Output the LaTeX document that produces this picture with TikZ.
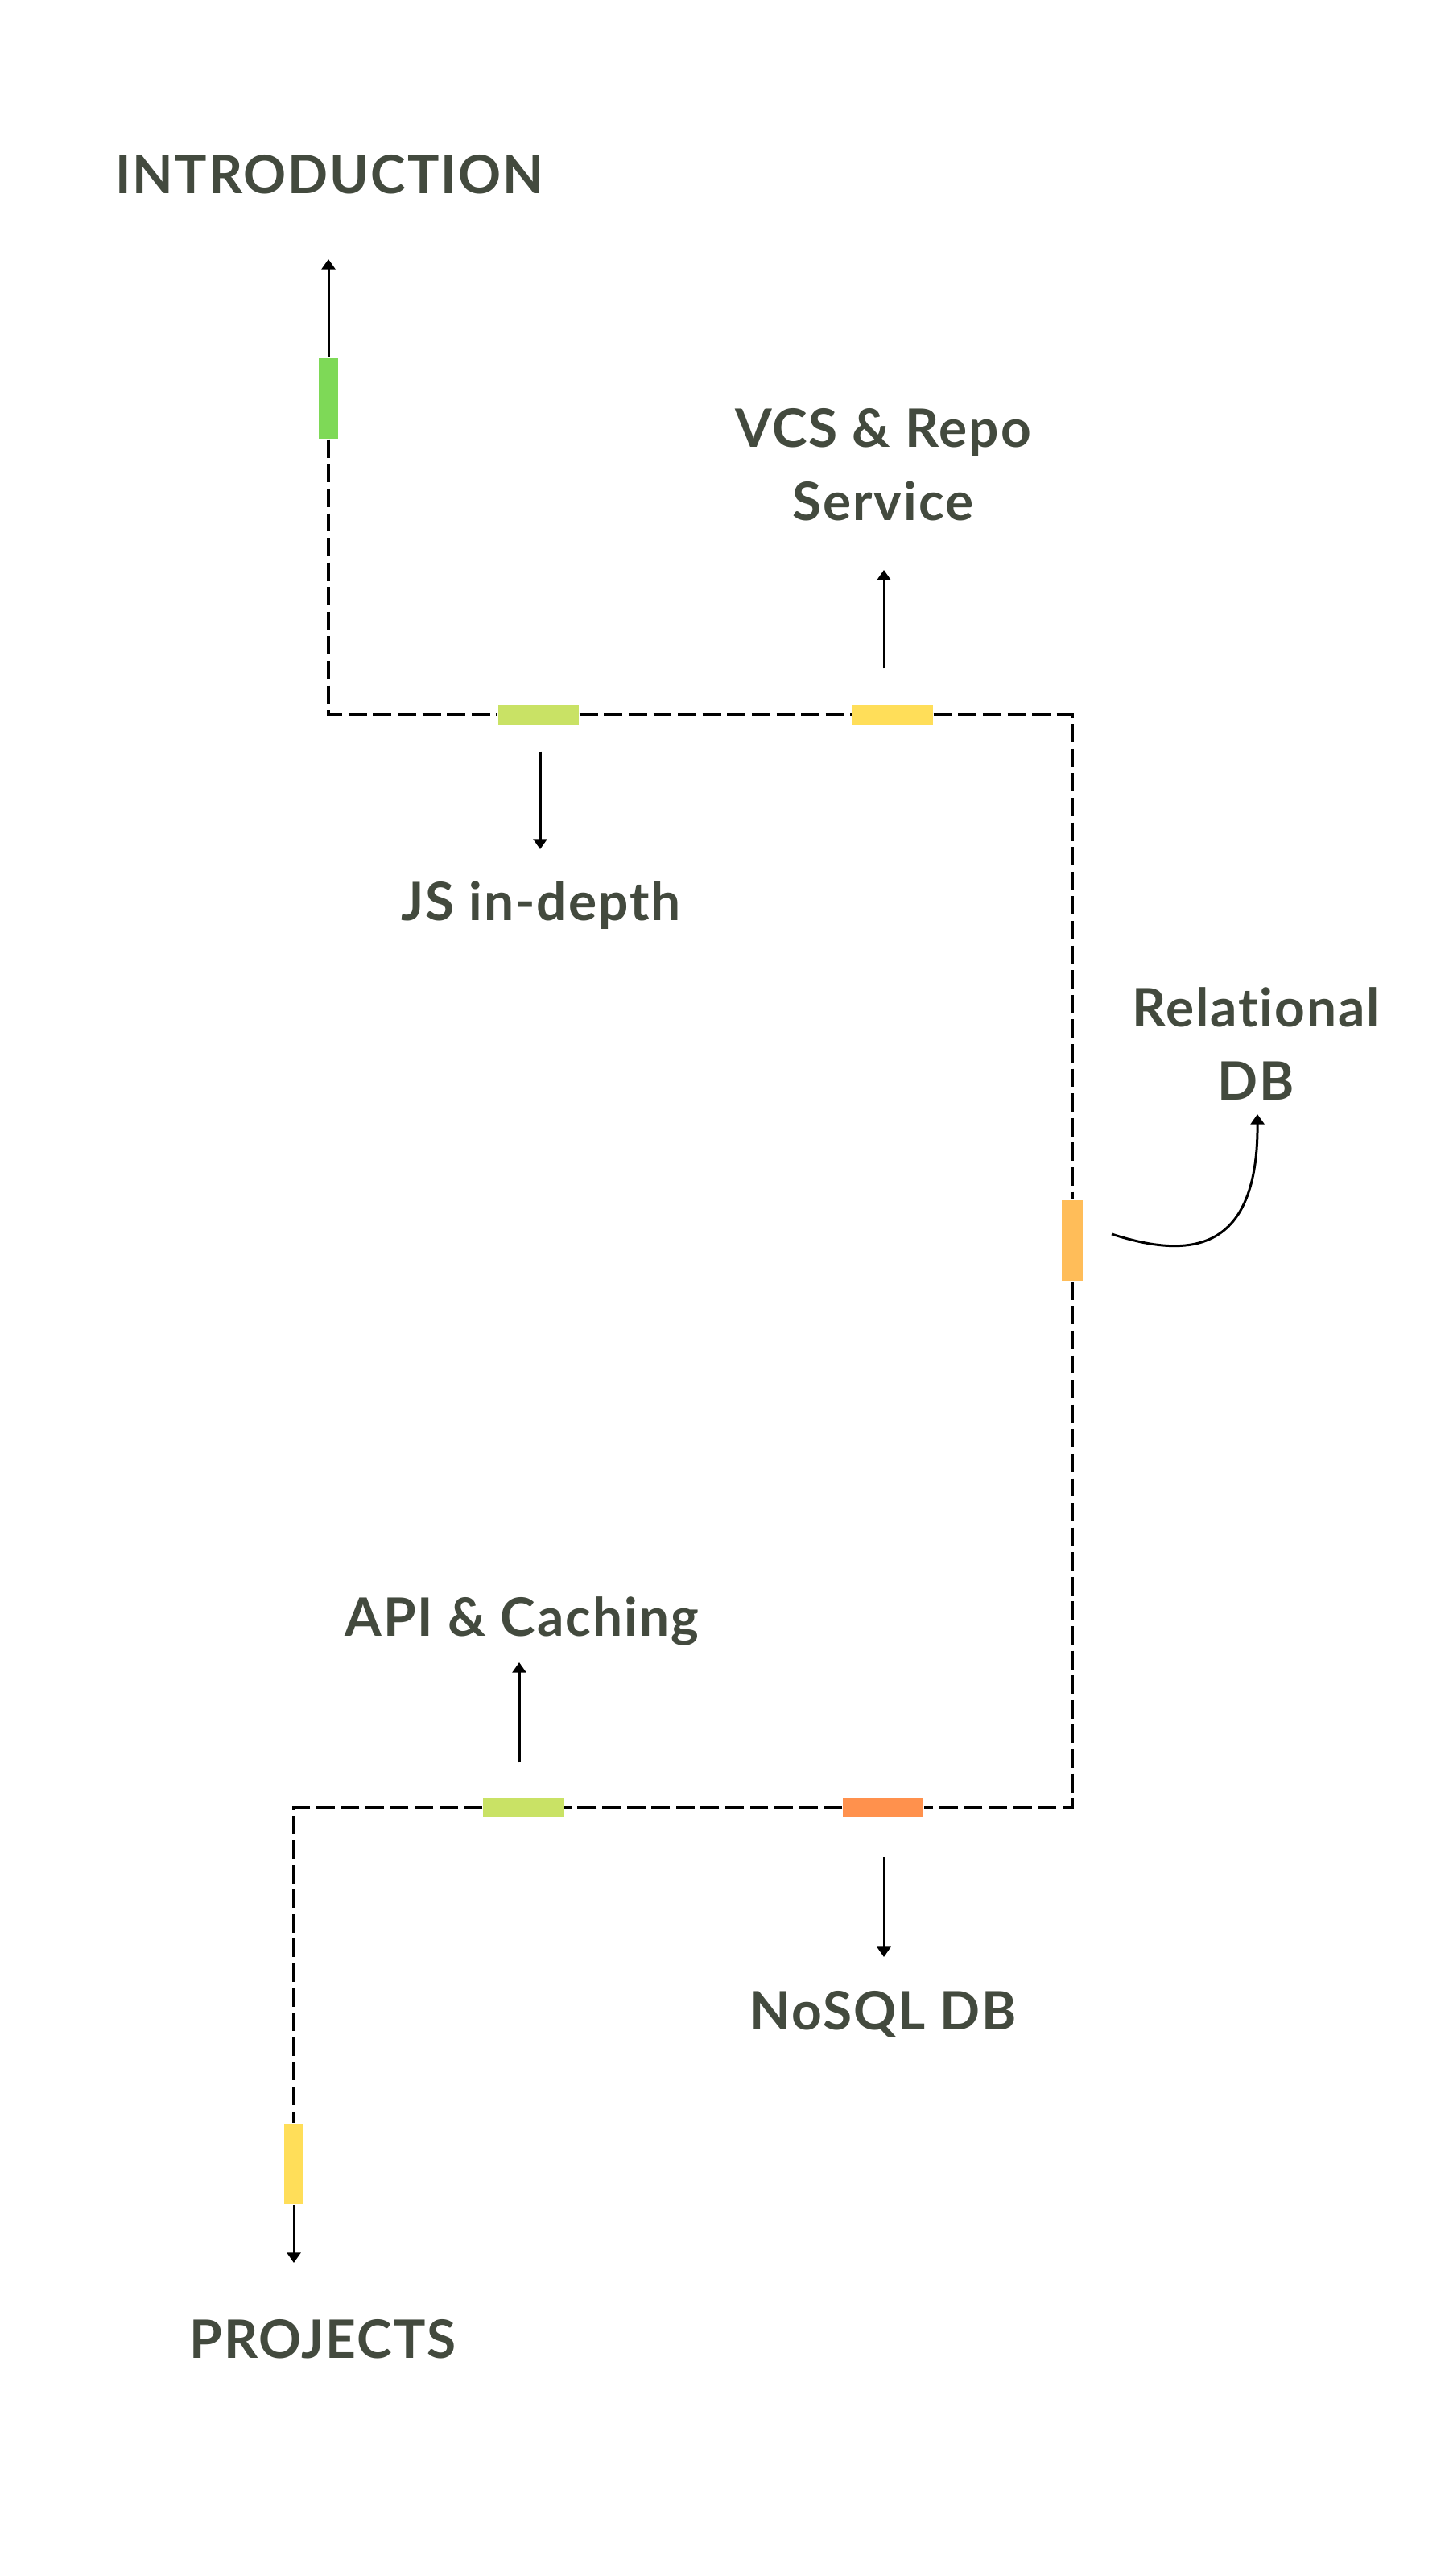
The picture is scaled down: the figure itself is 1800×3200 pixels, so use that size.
\documentclass[tikz,border=0pt]{standalone}
\usepackage{fontspec}
\setmainfont{Lato}[LetterSpace=3, Ligatures={NoCommon,NoContextual}]
\usepackage{tikz}
\usetikzlibrary{arrows.meta}
\definecolor{labelgray}{HTML}{434A3E}
\definecolor{barGreen}{HTML}{7ED957}
\definecolor{barLime}{HTML}{C9E265}
\definecolor{barYellow}{HTML}{FFDE59}
\definecolor{barApricot}{HTML}{FFBD59}
\definecolor{barOrange}{HTML}{FF914D}
\tikzset{
  hbar/.style={rectangle, inner sep=0pt, minimum width=1cm, minimum height=0.24cm},
  vbar/.style={rectangle, inner sep=0pt, minimum width=0.24cm, minimum height=1cm},
  topic/.style={font=\fontsize{18.7}{25.6}\selectfont\bfseries, text=labelgray,
    inner sep=0pt, anchor=base, align=center},
  route/.style={line width=1pt, dash pattern=on 6.5pt off 2.2pt},
  arr/.style={line width=0.85pt, -{Triangle[width=4.8pt,length=3.6pt]}},
}

\begin{document}
\begin{tikzpicture}[x=0.01cm,y=-0.01cm]
	\useasboundingbox (0,0) rectangle (1800,3200);
	\fill[white] (0,0) rectangle (1800,3200);

	\node[vbar, fill=barGreen] (introbar) at (408,495) {};
	\node[hbar, fill=barLime] (jsbar) at (669,888) {};
	\node[hbar, fill=barYellow] (vcsbar) at (1109,888) {};
	\node[vbar, fill=barApricot, minimum width=0.26cm] (relbar) at (1332,1541) {};
	\node[hbar, fill=barOrange] (nosqlbar) at (1097,2245) {};
	\node[hbar, fill=barLime] (apibar) at (650,2245) {};
	\node[vbar, fill=barYellow] (projbar) at (365,2688) {};

	\coordinate (c1) at (408,888);
	\coordinate (c2) at (1332,888);
	\coordinate (c3) at (1332,2245);
	\coordinate (c4) at (365,2245);

	\draw[route] (introbar) -- (c1) -- (jsbar);
	\draw[route] (jsbar) -- (vcsbar);
	\draw[route] (vcsbar) -- (c2) -- (relbar);
	\draw[route] (relbar) -- (c3) -- (nosqlbar);
	\draw[route] (nosqlbar) -- (apibar);
	\draw[route] (apibar) -- (c4) -- (projbar);

	\node[topic] (intro) at (409,241) {INTRODUCTION};
	\node[topic] (vcs) at (1097,646) {VCS \& Repo\\Service};
	\node[topic] (js) at (672,1143) {JS in-depth};
	\node[topic] (rel) at (1560,1366) {Relational\\DB};
	\node[topic] (api) at (648,2032) {API \& Caching};
	\node[topic] (nosql) at (1097,2521) {NoSQL DB};
	\node[topic] (proj) at (401,2929) {PROJECTS};

	\coordinate (introtip) at (408,322);
	\coordinate (vcstip) at (1098,708);
	\coordinate (jstip) at (671,1055);
	\coordinate (relstart) at (1381,1533);
	\coordinate (reltip) at (1562,1384);
	\coordinate (apitip) at (645,2065);
	\coordinate (nosqltip) at (1098,2431);
	\coordinate (projtip) at (365,2811);

	\draw[arr] (introbar) -- (introtip);
	\draw[arr, shorten <=0.45cm] (vcstip |- vcsbar.north) -- (vcstip);
	\draw[arr, shorten <=0.33cm] (jstip |- jsbar.south) -- (jstip);
	\draw[arr] (relstart) .. controls (1480,1565) and (1563,1555) .. (reltip);
	\draw[arr, shorten <=0.43cm] (apitip |- apibar.north) -- (apitip);
	\draw[arr, shorten <=0.49cm] (nosqltip |- nosqlbar.south) -- (nosqltip);
	\draw[arr] (projbar) -- (projtip);
\end{tikzpicture}
\end{document}
